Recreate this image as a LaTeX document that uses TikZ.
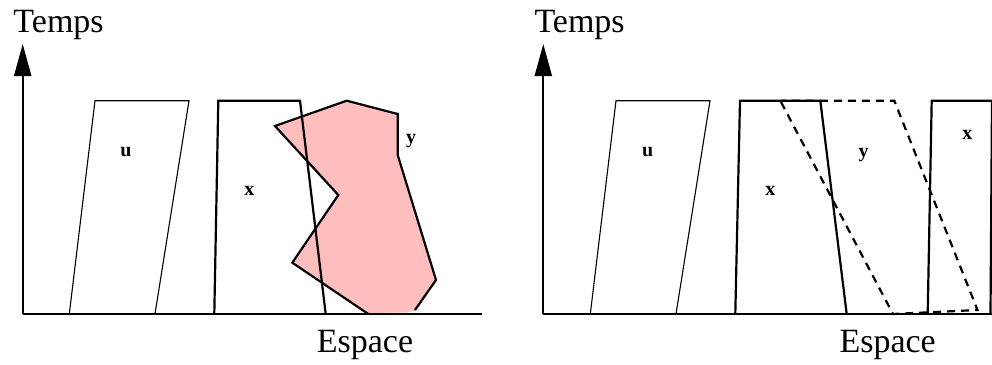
\documentclass[tikz,border=0pt]{standalone}
\usepackage{fontspec}
\setmainfont{Liberation Serif}
\usetikzlibrary{arrows.meta}
\definecolor{pinkfill}{RGB}{255,190,190}
\tikzset{
  axisline/.style={line width=2.2bp,-{Triangle[length=32bp,width=17bp]}},
  plainline/.style={line width=2.2bp},
  thinshape/.style={line width=1.1bp,line join=miter},
  thickshape/.style={line width=2.2bp,line join=miter},
  dashshape/.style={line width=2.2bp,dash pattern=on 8bp off 6bp},
  axlabel/.style={inner sep=0pt,anchor=base west,font=\fontsize{34bp}{34bp}\selectfont},
  reglabel/.style={inner sep=0pt,anchor=base,font=\fontsize{20bp}{20bp}\selectfont\bfseries},
}
\begin{document}
\begin{tikzpicture}[x=1bp,y=-1bp]
\useasboundingbox (0,0) rectangle (992,364);
\clip (0,0) rectangle (992,364);
% ---------- left panel ----------
\coordinate (LO) at (22.7,314);
\coordinate (LT) at (22.7,44);
\coordinate (LE) at (482,314);
% pink region y (fill first)
\fill[pinkfill] (275,126) -- (346.7,100.7) -- (397.7,114) -- (397.7,155) -- (436,280) -- (415,310) -- (368.3,314) -- (292.3,262.7) -- (338.3,195) -- cycle;
\draw[plainline] (LO) -- (LE);
\fill[pinkfill] (368.3,312.5) -- (415,310) -- (408,312.5) -- cycle;
\draw[axisline] (LO) -- (LT);
% u
\draw[thinshape] (95,100.7) -- (189,100.7) -- (155,314) -- (69.3,314) -- cycle;
% x
\draw[thickshape] (214.3,314) -- (218.3,100.7) -- (300,100.7) -- (325.7,314);
% outline of y
\draw[thickshape] (415,310) -- (436,280) -- (397.7,155) -- (397.7,114) -- (346.7,100.7) -- (275,126) -- (338.3,195) -- (292.3,262.7) -- (368.3,314);
\node[axlabel] (ltemps) at (13.3,32.3) {Temps};
\node[axlabel] (lesp) at (316.7,352.7) {Espace};
\node[reglabel] (lu) at (126,156) {u};
\node[reglabel] (lx) at (249.3,195) {x};
\node[reglabel] (ly) at (411,143) {y};
% ---------- right panel ----------
\coordinate (RO) at (543.3,314);
\coordinate (RT) at (543.3,44);
\coordinate (RE) at (992,314);
\draw[plainline] (RO) -- (RE);
\draw[axisline] (RO) -- (RT);
% u
\draw[thinshape] (616,100.7) -- (710,100.7) -- (676,314) -- (590.3,314) -- cycle;
% x
\draw[thickshape] (735.3,314) -- (740,100.7) -- (820.3,100.7) -- (846.7,314);
% dashed y
\draw[dashshape] (781,102) -- (893,314) -- (977.5,310) -- (894.3,100.7) -- (781,100.7);
% right x
\draw[thickshape] (927.7,314) -- (931.7,100.7) -- (1000,100.7);
\draw[thickshape] (992,100.7) -- (990.5,314);
\node[axlabel] (rtemps) at (534.3,32.3) {Temps};
\node[axlabel] (resp) at (839.3,352.7) {Espace};
\node[reglabel] (ru) at (647.7,156) {u};
\node[reglabel] (rx) at (770.3,195) {x};
\node[reglabel] (ry) at (863.7,157) {y};
\node[reglabel] (rx2) at (967.3,139.3) {x};
\end{tikzpicture}
\end{document}
